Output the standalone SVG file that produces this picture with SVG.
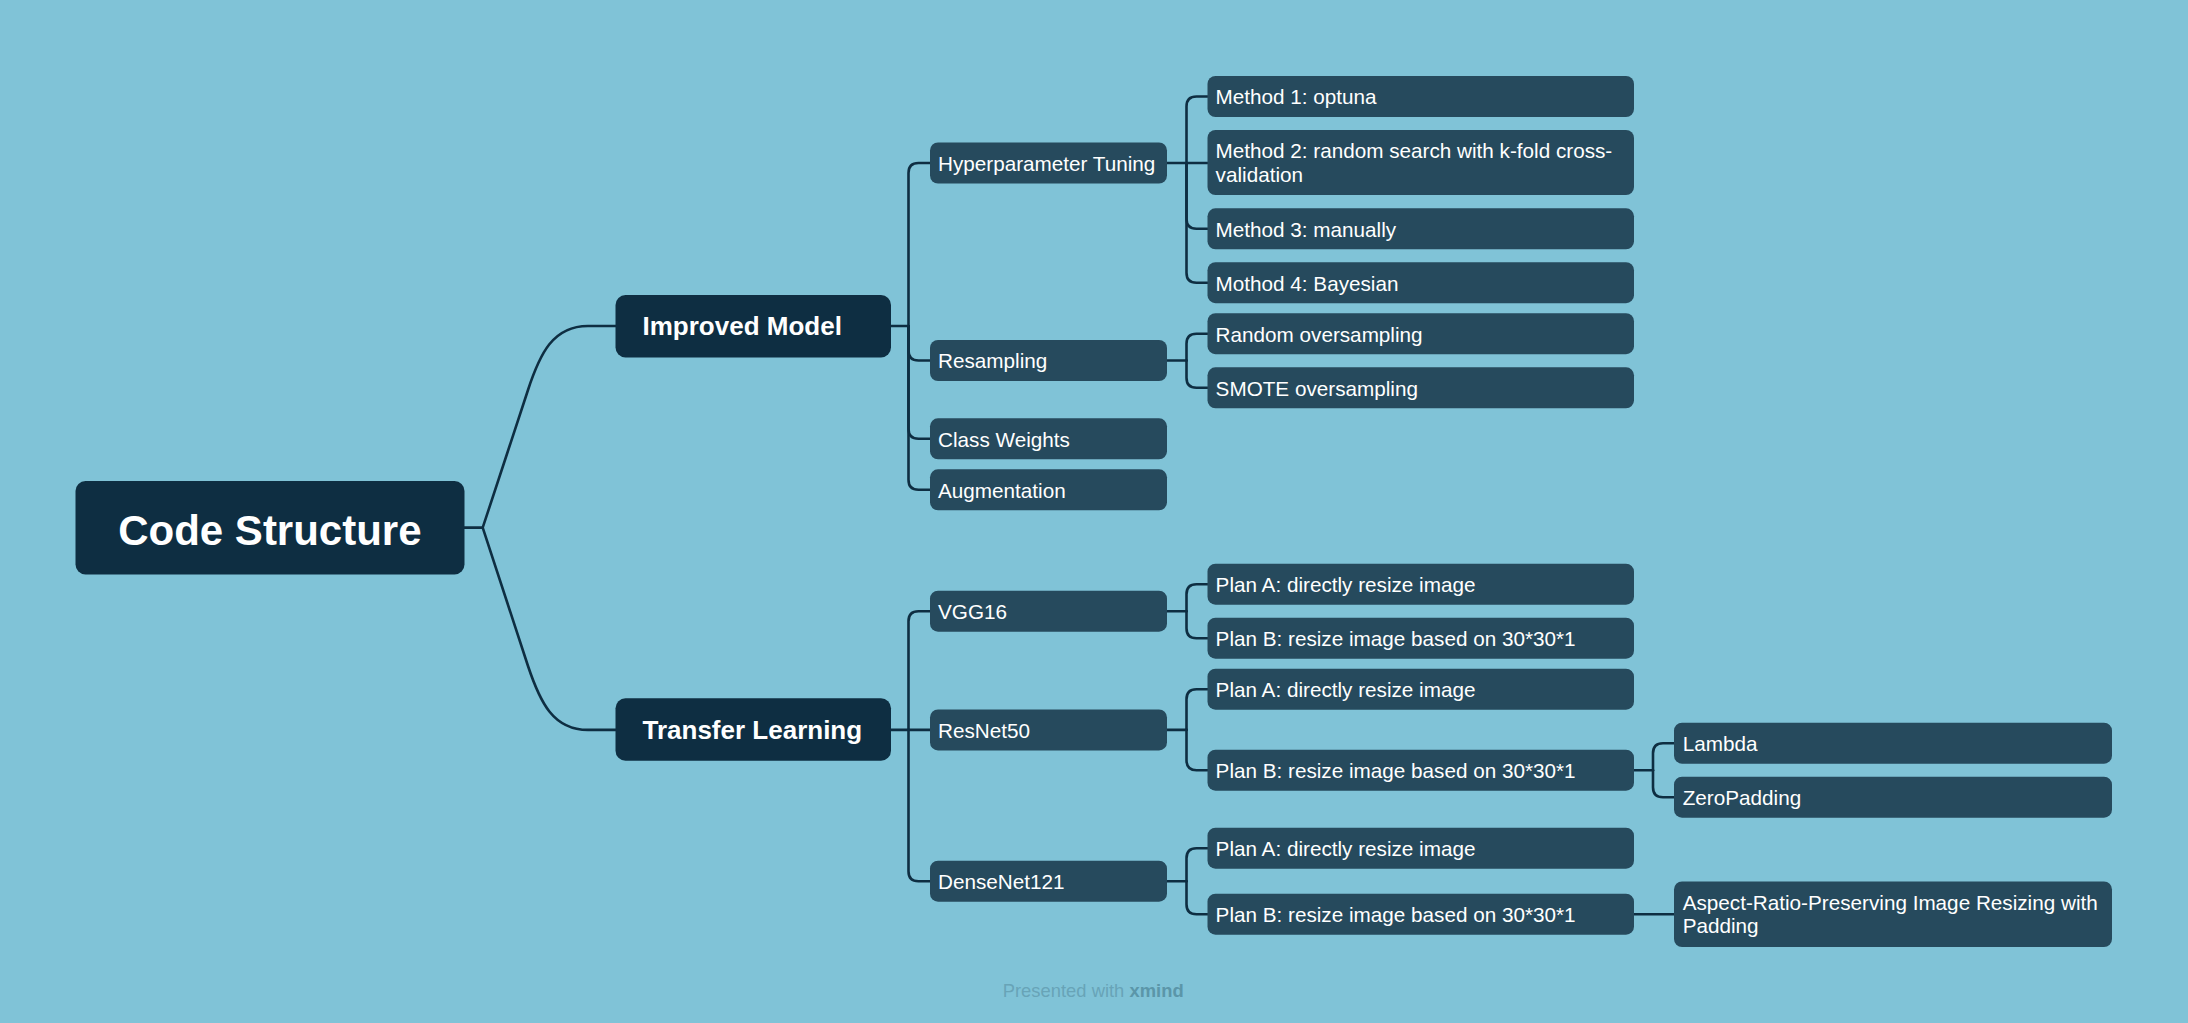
<svg xmlns="http://www.w3.org/2000/svg" width="2188" height="1023" viewBox="0 0 2188 1023">
<style>
.bg{fill:#80c3d7}
.root{fill:#0e2e42}
.main{fill:#0e2e42}
.sub{fill:#264a5d}
.t{font-family:"Liberation Sans",Arial,sans-serif;fill:#ffffff}
.t0{font-size:42px;font-weight:bold}
.t1{font-size:26px;font-weight:bold}
.t2{font-size:20.7px}
.conn path{fill:none;stroke:#0e2e42;stroke-width:2.6;stroke-linecap:round;stroke-linejoin:round}
.foot{font-family:"Liberation Sans",Arial,sans-serif;font-size:18.4px}
</style>
<rect class="bg" x="0" y="0" width="2188" height="1023"/>

<g id="connectors" class="conn">
  <!-- root to level 1 -->
  <path d="M464,527.7 H482.7 L528,390 C540,353.5 553,326 588,326 H616"/>
  <path d="M464,527.7 H482.7 L528,666 C540,702 553,729.9 588,729.9 H616"/>
  <!-- Improved Model children -->
  <path d="M891,326 H908.5"/>
  <path d="M908.5,326 V173 Q908.5,163 918.5,163 H930"/>
  <path d="M908.5,326 V350.5 Q908.5,360.5 918.5,360.5 H930"/>
  <path d="M908.5,326 V428.8 Q908.5,438.8 918.5,438.8 H930"/>
  <path d="M908.5,326 V479.8 Q908.5,489.8 918.5,489.8 H930"/>
  <!-- Transfer Learning children -->
  <path d="M891,729.9 H930"/>
  <path d="M908.5,729.9 V621.2 Q908.5,611.2 918.5,611.2 H930"/>
  <path d="M908.5,729.9 V871.2 Q908.5,881.2 918.5,881.2 H930"/>
  <!-- Hyperparameter Tuning children -->
  <path d="M1167,163 H1207.5"/>
  <path d="M1186.5,163 V106.5 Q1186.5,96.5 1196.5,96.5 H1207.5"/>
  <path d="M1186.5,163 V218.8 Q1186.5,228.8 1196.5,228.8 H1207.5"/>
  <path d="M1186.5,163 V272.7 Q1186.5,282.7 1196.5,282.7 H1207.5"/>
  <!-- Resampling children -->
  <path d="M1167,360.5 H1186.5"/>
  <path d="M1186.5,360.5 V343.7 Q1186.5,333.7 1196.5,333.7 H1207.5"/>
  <path d="M1186.5,360.5 V377.8 Q1186.5,387.8 1196.5,387.8 H1207.5"/>
  <!-- VGG16 children -->
  <path d="M1167,611.2 H1186.5"/>
  <path d="M1186.5,611.2 V594.2 Q1186.5,584.2 1196.5,584.2 H1207.5"/>
  <path d="M1186.5,611.2 V628.2 Q1186.5,638.2 1196.5,638.2 H1207.5"/>
  <!-- ResNet50 children -->
  <path d="M1167,729.9 H1186.5"/>
  <path d="M1186.5,729.9 V699.2 Q1186.5,689.2 1196.5,689.2 H1207.5"/>
  <path d="M1186.5,729.9 V760.2 Q1186.5,770.2 1196.5,770.2 H1207.5"/>
  <!-- DenseNet121 children -->
  <path d="M1167,881.2 H1186.5"/>
  <path d="M1186.5,881.2 V858.2 Q1186.5,848.2 1196.5,848.2 H1207.5"/>
  <path d="M1186.5,881.2 V904.2 Q1186.5,914.2 1196.5,914.2 H1207.5"/>
  <!-- Plan B ResNet children -->
  <path d="M1634,770.2 H1653"/>
  <path d="M1653,770.2 V753.2 Q1653,743.2 1663,743.2 H1674"/>
  <path d="M1653,770.2 V787.2 Q1653,797.2 1663,797.2 H1674"/>
  <!-- Plan B DenseNet child -->
  <path d="M1634,914.2 H1674"/>
</g>

<g id="node-root">
  <rect class="root" x="75.5" y="481" width="389" height="93.5" rx="10"/>
  <text class="t t0" x="269.9" y="545" text-anchor="middle">Code Structure</text>
</g>

<g id="node-improved-model">
  <rect class="main" x="615.5" y="295" width="275.5" height="62.5" rx="10"/>
  <text class="t t1" x="642.5" y="335.3">Improved Model</text>
</g>
<g id="node-transfer-learning">
  <rect class="main" x="615.5" y="698.3" width="275.5" height="62.5" rx="10"/>
  <text class="t t1" x="642.5" y="739">Transfer Learning</text>
</g>

<g id="node-hyperparameter-tuning">
  <rect class="sub" x="930" y="142.5" width="237" height="41" rx="8"/>
  <text class="t t2" x="938" y="170.8">Hyperparameter Tuning</text>
</g>
<g id="node-resampling">
  <rect class="sub" x="930" y="340" width="237" height="41" rx="8"/>
  <text class="t t2" x="938" y="368.3">Resampling</text>
</g>
<g id="node-class-weights">
  <rect class="sub" x="930" y="418.3" width="237" height="41" rx="8"/>
  <text class="t t2" x="938" y="446.6">Class Weights</text>
</g>
<g id="node-augmentation">
  <rect class="sub" x="930" y="469.3" width="237" height="41" rx="8"/>
  <text class="t t2" x="938" y="497.6">Augmentation</text>
</g>
<g id="node-vgg16">
  <rect class="sub" x="930" y="590.7" width="237" height="41" rx="8"/>
  <text class="t t2" x="938" y="619">VGG16</text>
</g>
<g id="node-resnet50">
  <rect class="sub" x="930" y="709.4" width="237" height="41" rx="8"/>
  <text class="t t2" x="938" y="737.7">ResNet50</text>
</g>
<g id="node-densenet121">
  <rect class="sub" x="930" y="860.7" width="237" height="41" rx="8"/>
  <text class="t t2" x="938" y="889">DenseNet121</text>
</g>

<g id="node-method1">
  <rect class="sub" x="1207.5" y="76" width="426.5" height="41" rx="8"/>
  <text class="t t2" x="1215.6" y="104.3">Method 1: optuna</text>
</g>
<g id="node-method2">
  <rect class="sub" x="1207.5" y="130" width="426.5" height="65" rx="8"/>
  <text class="t t2" x="1215.6" y="158.3">Method 2: random search with k-fold cross-</text>
  <text class="t t2" x="1215.6" y="181.7">validation</text>
</g>
<g id="node-method3">
  <rect class="sub" x="1207.5" y="208.3" width="426.5" height="41" rx="8"/>
  <text class="t t2" x="1215.6" y="236.6">Method 3: manually</text>
</g>
<g id="node-method4">
  <rect class="sub" x="1207.5" y="262.2" width="426.5" height="41" rx="8"/>
  <text class="t t2" x="1215.6" y="290.5">Mothod 4: Bayesian</text>
</g>
<g id="node-random-oversampling">
  <rect class="sub" x="1207.5" y="313.2" width="426.5" height="41" rx="8"/>
  <text class="t t2" x="1215.6" y="341.5">Random oversampling</text>
</g>
<g id="node-smote-oversampling">
  <rect class="sub" x="1207.5" y="367.3" width="426.5" height="41" rx="8"/>
  <text class="t t2" x="1215.6" y="395.6">SMOTE oversampling</text>
</g>
<g id="node-vgg-plan-a">
  <rect class="sub" x="1207.5" y="563.7" width="426.5" height="41" rx="8"/>
  <text class="t t2" x="1215.6" y="592">Plan A: directly resize image</text>
</g>
<g id="node-vgg-plan-b">
  <rect class="sub" x="1207.5" y="617.7" width="426.5" height="41" rx="8"/>
  <text class="t t2" x="1215.6" y="646">Plan B: resize image based on 30*30*1</text>
</g>
<g id="node-resnet-plan-a">
  <rect class="sub" x="1207.5" y="668.7" width="426.5" height="41" rx="8"/>
  <text class="t t2" x="1215.6" y="697">Plan A: directly resize image</text>
</g>
<g id="node-resnet-plan-b">
  <rect class="sub" x="1207.5" y="749.7" width="426.5" height="41" rx="8"/>
  <text class="t t2" x="1215.6" y="778">Plan B: resize image based on 30*30*1</text>
</g>
<g id="node-densenet-plan-a">
  <rect class="sub" x="1207.5" y="827.7" width="426.5" height="41" rx="8"/>
  <text class="t t2" x="1215.6" y="856">Plan A: directly resize image</text>
</g>
<g id="node-densenet-plan-b">
  <rect class="sub" x="1207.5" y="893.7" width="426.5" height="41" rx="8"/>
  <text class="t t2" x="1215.6" y="922">Plan B: resize image based on 30*30*1</text>
</g>

<g id="node-lambda">
  <rect class="sub" x="1674" y="722.7" width="438" height="41" rx="8"/>
  <text class="t t2" x="1682.7" y="751">Lambda</text>
</g>
<g id="node-zeropadding">
  <rect class="sub" x="1674" y="776.7" width="438" height="41" rx="8"/>
  <text class="t t2" x="1682.7" y="805">ZeroPadding</text>
</g>
<g id="node-aspect-ratio">
  <rect class="sub" x="1674" y="881.5" width="438" height="65.5" rx="8"/>
  <text class="t t2" x="1682.7" y="910">Aspect-Ratio-Preserving Image Resizing with</text>
  <text class="t t2" x="1682.7" y="933.3">Padding</text>
</g>

<g id="footer">
  <text class="foot" x="1002.7" y="997.3" fill="#68a4b7">Presented with <tspan font-weight="bold" fill="#5b96a9">xmind</tspan></text>
</g>
</svg>
